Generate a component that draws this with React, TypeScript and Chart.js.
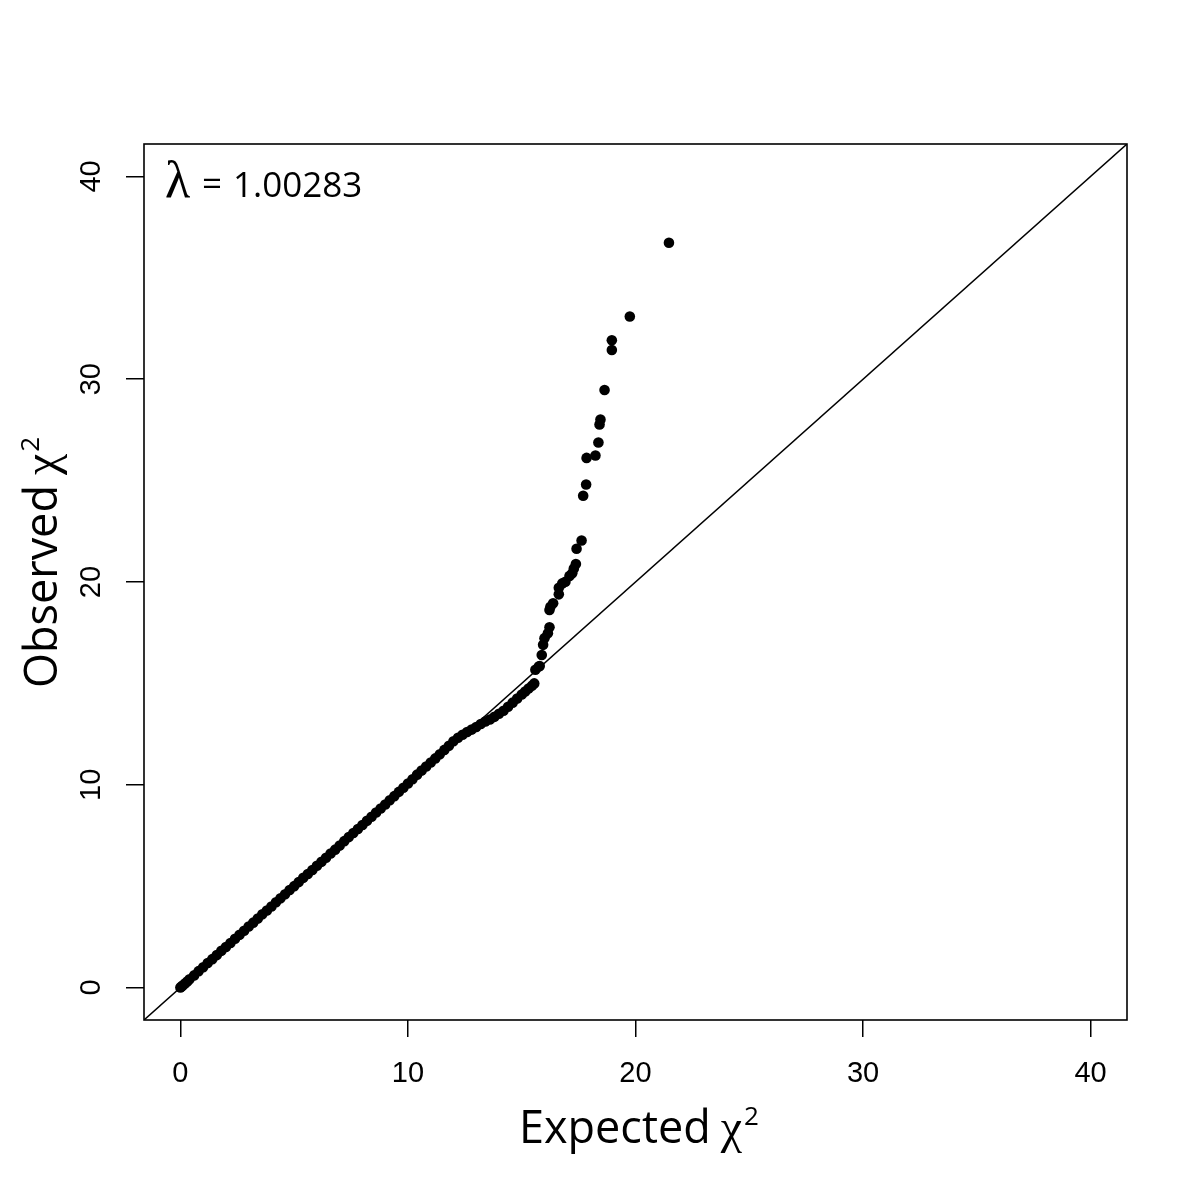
import React, { useEffect, useRef } from "react";
import { Chart, registerables } from "chart.js";

Chart.register(...registerables);

// Dense band of points (expected vs observed chi-square)
const expectedBand = [
  0, 0.05, 0.1, 0.2, 0.3, 0.4,
  0.6, 0.8, 1.0, 1.2, 1.4, 1.6, 1.8, 2.0, 2.2, 2.4, 2.6, 2.8, 3.0, 3.2, 3.4, 3.6, 3.8, 4.0,
  4.2, 4.4, 4.6, 4.8, 5.0, 5.2, 5.4, 5.6, 5.8, 6.0, 6.2, 6.4, 6.6, 6.8, 7.0, 7.2, 7.4, 7.6,
  7.8, 8.0, 8.2, 8.4, 8.6, 8.8, 9.0, 9.2, 9.4, 9.6, 9.8, 10.0,
  10.2, 10.4, 10.6, 10.8, 11.0, 11.2, 11.4, 11.6, 11.8, 12.0, 12.2, 12.4, 12.6, 12.8, 13.0,
  13.2, 13.4, 13.6, 13.8, 14.0, 14.2, 14.4, 14.6, 14.8, 15.0,
  15.15, 15.3, 15.45, 15.55,
];
const observedBand = [
  0, 0.05, 0.1, 0.2, 0.3, 0.41,
  0.6, 0.81, 1.0, 1.21, 1.4, 1.6, 1.81, 2.0, 2.2, 2.41, 2.6, 2.8, 3.01, 3.2, 3.4, 3.61, 3.8, 4.0,
  4.21, 4.4, 4.6, 4.81, 5.0, 5.2, 5.41, 5.6, 5.8, 6.01, 6.2, 6.4, 6.61, 6.8, 7.0, 7.22, 7.42, 7.62,
  7.82, 8.02, 8.22, 8.42, 8.63, 8.83, 9.03, 9.24, 9.44, 9.65, 9.85, 10.06,
  10.27, 10.5, 10.7, 10.9, 11.1, 11.3, 11.5, 11.72, 11.92, 12.15, 12.32, 12.47, 12.6, 12.72, 12.85,
  13.0, 13.12, 13.22, 13.35, 13.5, 13.65, 13.85, 14.05, 14.25, 14.45,
  14.6, 14.75, 14.88, 15.0,
];

// Upper tail, individually read points
const expectedTail = [
  15.6, 15.75, 15.79, 15.88, 15.94, 16.0, 16.15, 16.22, 16.22, 16.26, 16.38, 16.63, 16.63,
  16.78, 16.92, 17.1, 17.22, 17.29, 17.38, 17.41, 17.63, 17.7, 17.83, 17.85, 18.24, 18.37,
  18.42, 18.46, 18.64, 18.96, 18.96, 19.75, 21.47,
];
const observedTail = [
  15.67, 15.83, 15.86, 16.4, 16.9, 17.23, 17.47, 17.77, 18.62, 18.78, 18.95, 19.39, 19.72,
  19.93, 20.01, 20.3, 20.43, 20.67, 20.89, 21.64, 22.05, 24.25, 24.81, 26.12, 26.24, 26.88,
  27.77, 28.01, 29.47, 31.44, 31.92, 33.09, 36.73,
];

const xTicks = [0, 10, 20, 30, 40];
const yTicks = [0, 10, 20, 30, 40];
const axisMin = -1.6;
const axisMax = 41.6;
const referenceLine = [axisMin, axisMax];

const xLabelWord = "Expected";
const yLabelWord = "Observed";
const chiSymbol = "χ";
const superTwo = "2";
const lambdaSymbol = "λ";
const lambdaValue = "1.00283";

const TITLE_FONT = "'Open Sans', 'Noto Sans', sans-serif";
const GREEK_FONT = "'Liberation Serif', 'DejaVu Serif', serif";

function drawExpression(ctx: CanvasRenderingContext2D, word: string) {
  // draws at origin, baseline y=0, starting x=0
  ctx.font = `45px ${TITLE_FONT}`;
  ctx.textBaseline = "alphabetic";
  ctx.textAlign = "left";
  ctx.fillText(word, 0, 0);
  let x = ctx.measureText(word).width + 10;
  ctx.font = `48px ${GREEK_FONT}`;
  ctx.fillText(chiSymbol, x, 0);
  x += ctx.measureText(chiSymbol).width + 2;
  ctx.font = `26px ${TITLE_FONT}`;
  ctx.fillText(superTwo, x, -18);
}

const annotationPlugin = {
  id: "rAnnotations",
  beforeDatasetsDraw(chart: any) {
    const { ctx, chartArea } = chart;
    ctx.save();
    ctx.strokeStyle = "#000";
    ctx.lineWidth = 1.6;
    ctx.strokeRect(chartArea.left, chartArea.top, chartArea.right - chartArea.left, chartArea.bottom - chartArea.top);
    ctx.restore();
  },
  afterDraw(chart: any) {
    const { ctx, chartArea } = chart;
    ctx.save();
    ctx.fillStyle = "#000";
    // x title
    ctx.save();
    ctx.translate(519, 1143);
    drawExpression(ctx, xLabelWord);
    ctx.restore();
    // y title
    ctx.save();
    ctx.translate(57, 688);
    ctx.rotate(-Math.PI / 2);
    drawExpression(ctx, yLabelWord);
    ctx.restore();
    // lambda annotation
    const lx = chartArea.left + 21;
    const ly = chartArea.top + 53;
    ctx.textBaseline = "alphabetic";
    ctx.textAlign = "left";
    ctx.font = `52px ${GREEK_FONT}`;
    ctx.fillText(lambdaSymbol, lx, ly);
    ctx.font = `35px ${TITLE_FONT}`;
    ctx.fillText("=", lx + 37, ly - 1);
    ctx.fillText(lambdaValue, lx + 68, ly);
    ctx.restore();
  },
};

export default function App() {
  const canvasRef = useRef<HTMLCanvasElement | null>(null);

  useEffect(() => {
    const canvas = canvasRef.current;
    if (!canvas) return;
    const points = [
      ...expectedBand.map((x, i) => ({ x, y: observedBand[i] })),
      ...expectedTail.map((x, i) => ({ x, y: observedTail[i] })),
    ];
    const tickFont = { family: "'Liberation Sans', Arial, sans-serif", size: 29 };
    const chart = new Chart(canvas, {
      type: "scatter",
      data: {
        datasets: [
          {
            type: "scatter",
            data: points,
            backgroundColor: "#000",
            borderWidth: 0,
            pointRadius: 5.3,
            order: 0,
          },
          {
            type: "line",
            data: referenceLine.map((v) => ({ x: v, y: v })),
            borderColor: "#000",
            borderWidth: 1.5,
            pointRadius: 0,
            fill: false,
            order: 1,
          } as any,
        ],
      },
      options: {
        animation: false,
        responsive: false,
        events: [],
        layout: { padding: { top: 144, right: 73, left: 0, bottom: 0 } },
        plugins: { legend: { display: false }, tooltip: { enabled: false } },
        scales: {
          x: {
            type: "linear",
            min: axisMin,
            max: axisMax,
            afterBuildTicks: (s: any) => {
              s.ticks = xTicks.map((v) => ({ value: v }));
            },
            afterFit: (s: any) => {
              s.height = 180;
            },
            grid: { display: true, drawOnChartArea: false, drawTicks: true, tickLength: 17, color: "#000", lineWidth: 1.5 },
            border: { display: false },
            ticks: { font: tickFont, color: "#000", padding: 20, maxRotation: 0, minRotation: 0, autoSkip: false },
          },
          y: {
            type: "linear",
            min: axisMin,
            max: axisMax,
            afterBuildTicks: (s: any) => {
              s.ticks = yTicks.map((v) => ({ value: v }));
            },
            afterFit: (s: any) => {
              s.width = 144;
            },
            grid: { display: true, drawOnChartArea: false, drawTicks: true, tickLength: 18, color: "#000", lineWidth: 1.5 },
            border: { display: false },
            ticks: {
              font: tickFont,
              color: "#000",
              padding: 18,
              minRotation: 90,
              maxRotation: 90,
              crossAlign: "center",
              autoSkip: false,
            },
          },
        },
      } as any,
      plugins: [annotationPlugin],
    });
    return () => chart.destroy();
  }, []);

  return (
    <div style={{ position: "absolute", left: 0, top: 0, width: 1200, height: 1200, background: "#fff" }}>
      <canvas ref={canvasRef} width={1200} height={1200} />
    </div>
  );
}
